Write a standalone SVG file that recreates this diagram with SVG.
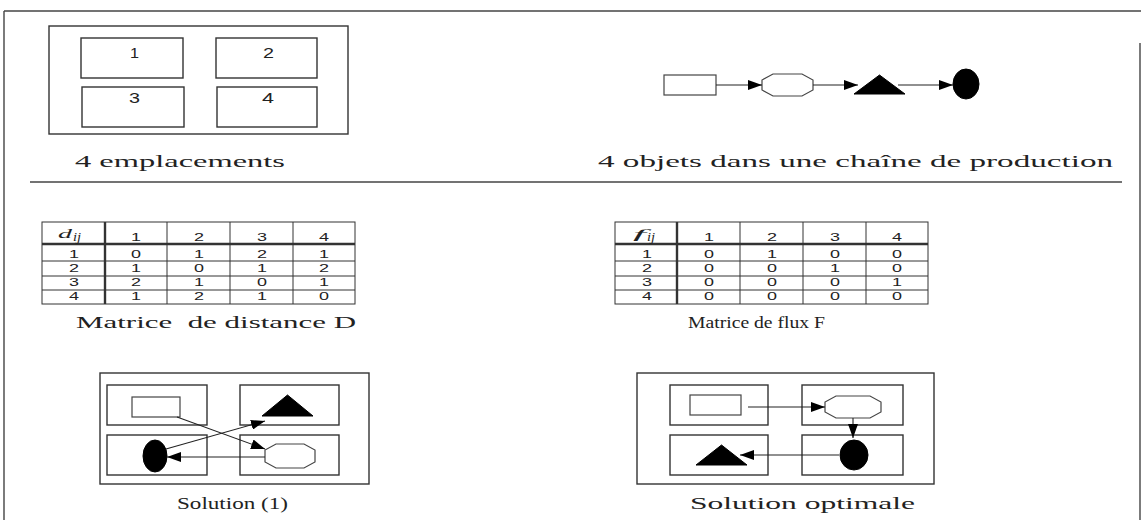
<svg xmlns="http://www.w3.org/2000/svg" width="1141" height="520" viewBox="0 0 1141 520">
  <style>
    .frame { fill: none; stroke: #444; stroke-width: 1.4; }
    .box { fill: #fff; stroke: #333; stroke-width: 1.4; }
    .obj { fill: #fff; stroke: #444; stroke-width: 1.2; }
    .solid { fill: #000; stroke: #000; stroke-width: 1; }
    .link { fill: none; stroke: #222; stroke-width: 1.1; marker-end: url(#head); }
    .grid { stroke: #333; stroke-width: 1; fill: none; }
    .thick { stroke: #333; stroke-width: 2.4; }
    .cap { font-family: "Liberation Serif", "DejaVu Serif", serif; font-size: 17px; fill: #222; white-space: pre; }
    .num { font-family: "Liberation Sans", Arial, sans-serif; font-size: 14px; fill: #222; }
    .cell { font-family: "Liberation Sans", Arial, sans-serif; font-size: 11px; fill: #222; }
    .hdr { font-family: "Liberation Serif", serif; font-style: italic; font-size: 13px; fill: #222; }
  </style>
  <defs>
    <marker id="head" markerUnits="userSpaceOnUse" markerWidth="16" markerHeight="10" refX="14" refY="5" orient="auto">
      <path d="M0,0 L14,5 L0,10 Z" fill="#000"/>
    </marker>
  </defs>

  <rect width="1141" height="520" fill="#fff"/>

  <!-- page frame and separator -->
  <g id="frame">
    <line class="frame" x1="4" y1="11" x2="1141" y2="11"/>
    <line class="frame" x1="4" y1="11" x2="4" y2="520"/>
    <line class="frame" x1="1140" y1="43" x2="1140" y2="520"/>
    <line class="frame" x1="30" y1="182" x2="1122" y2="182"/>
  </g>

  <!-- four locations -->
  <g id="locations">
    <rect class="box" x="49" y="26" width="299" height="108"/>
    <rect class="box" x="81" y="38" width="102" height="40"/>
    <rect class="box" x="216" y="38" width="101" height="40"/>
    <rect class="box" x="82" y="87" width="102" height="40"/>
    <rect class="box" x="217" y="87" width="100" height="40"/>
    <text class="num" x="130" y="58" textLength="9" lengthAdjust="spacingAndGlyphs">1</text>
    <text class="num" x="263" y="58" textLength="11" lengthAdjust="spacingAndGlyphs">2</text>
    <text class="num" x="129" y="103" textLength="11" lengthAdjust="spacingAndGlyphs">3</text>
    <text class="num" x="262" y="103" textLength="12" lengthAdjust="spacingAndGlyphs">4</text>
    <text class="cap" x="75" y="167" textLength="210" lengthAdjust="spacingAndGlyphs">4 emplacements</text>
  </g>

  <!-- production chain objects -->
  <g id="chain">
    <rect class="obj" x="664" y="75" width="52" height="20"/>
    <polygon class="obj" points="773,74 802,74 813,80 813,90 802,96 773,96 762,90 762,80"/>
    <polygon class="solid" points="854,94 879.5,75 905,94"/>
    <ellipse class="solid" cx="966" cy="84" rx="13" ry="15"/>
    <text class="cap" x="598" y="167" textLength="515" lengthAdjust="spacingAndGlyphs">4 objets dans une chaîne de production</text>
  </g>

  <!-- distance matrix D -->
  <g id="matrix-d">
    <rect class="grid" x="42" y="222" width="313" height="82"/>
    <line class="thick" x1="42" y1="244" x2="355" y2="244"/>
    <line class="grid" x1="42" y1="261" x2="355" y2="261"/>
    <line class="grid" x1="42" y1="276" x2="355" y2="276"/>
    <line class="grid" x1="42" y1="290" x2="355" y2="290"/>
    <line class="thick" x1="105" y1="222" x2="105" y2="304"/>
    <line class="grid" x1="167" y1="222" x2="167" y2="304"/>
    <line class="grid" x1="230" y1="222" x2="230" y2="304"/>
    <line class="grid" x1="293" y1="222" x2="293" y2="304"/>
    <text class="hdr" x="58" y="238" textLength="14" lengthAdjust="spacingAndGlyphs">d</text>
    <text class="hdr" x="73" y="241" font-size="8" textLength="8" lengthAdjust="spacingAndGlyphs">ij</text>
    <g class="cell">
      <text x="131" y="241" textLength="10" lengthAdjust="spacingAndGlyphs">1</text>
      <text x="194" y="241" textLength="10" lengthAdjust="spacingAndGlyphs">2</text>
      <text x="257" y="241" textLength="10" lengthAdjust="spacingAndGlyphs">3</text>
      <text x="319" y="241" textLength="10" lengthAdjust="spacingAndGlyphs">4</text>
      <text x="69" y="258" textLength="10" lengthAdjust="spacingAndGlyphs">1</text>
      <text x="131" y="258" textLength="10" lengthAdjust="spacingAndGlyphs">0</text>
      <text x="194" y="258" textLength="10" lengthAdjust="spacingAndGlyphs">1</text>
      <text x="257" y="258" textLength="10" lengthAdjust="spacingAndGlyphs">2</text>
      <text x="319" y="258" textLength="10" lengthAdjust="spacingAndGlyphs">1</text>
      <text x="69" y="272" textLength="10" lengthAdjust="spacingAndGlyphs">2</text>
      <text x="131" y="272" textLength="10" lengthAdjust="spacingAndGlyphs">1</text>
      <text x="194" y="272" textLength="10" lengthAdjust="spacingAndGlyphs">0</text>
      <text x="257" y="272" textLength="10" lengthAdjust="spacingAndGlyphs">1</text>
      <text x="319" y="272" textLength="10" lengthAdjust="spacingAndGlyphs">2</text>
      <text x="69" y="286" textLength="10" lengthAdjust="spacingAndGlyphs">3</text>
      <text x="131" y="286" textLength="10" lengthAdjust="spacingAndGlyphs">2</text>
      <text x="194" y="286" textLength="10" lengthAdjust="spacingAndGlyphs">1</text>
      <text x="257" y="286" textLength="10" lengthAdjust="spacingAndGlyphs">0</text>
      <text x="319" y="286" textLength="10" lengthAdjust="spacingAndGlyphs">1</text>
      <text x="69" y="300" textLength="10" lengthAdjust="spacingAndGlyphs">4</text>
      <text x="131" y="300" textLength="10" lengthAdjust="spacingAndGlyphs">1</text>
      <text x="194" y="300" textLength="10" lengthAdjust="spacingAndGlyphs">2</text>
      <text x="257" y="300" textLength="10" lengthAdjust="spacingAndGlyphs">1</text>
      <text x="319" y="300" textLength="10" lengthAdjust="spacingAndGlyphs">0</text>
    </g>
    <text class="cap" x="76" y="328" textLength="280" lengthAdjust="spacingAndGlyphs">Matrice  de distance D</text>
  </g>

  <!-- flow matrix F -->
  <g id="matrix-f">
    <rect class="grid" x="615" y="222" width="313" height="82"/>
    <line class="thick" x1="615" y1="244" x2="928" y2="244"/>
    <line class="grid" x1="615" y1="261" x2="928" y2="261"/>
    <line class="grid" x1="615" y1="276" x2="928" y2="276"/>
    <line class="grid" x1="615" y1="290" x2="928" y2="290"/>
    <line class="thick" x1="677" y1="222" x2="677" y2="304"/>
    <line class="grid" x1="740" y1="222" x2="740" y2="304"/>
    <line class="grid" x1="803" y1="222" x2="803" y2="304"/>
    <line class="grid" x1="866" y1="222" x2="866" y2="304"/>
    <text class="hdr" x="633" y="238" textLength="13" lengthAdjust="spacingAndGlyphs">f</text>
    <text class="hdr" x="647" y="241" font-size="8" textLength="8" lengthAdjust="spacingAndGlyphs">ij</text>
    <g class="cell">
      <text x="704" y="241" textLength="10" lengthAdjust="spacingAndGlyphs">1</text>
      <text x="767" y="241" textLength="10" lengthAdjust="spacingAndGlyphs">2</text>
      <text x="830" y="241" textLength="10" lengthAdjust="spacingAndGlyphs">3</text>
      <text x="892" y="241" textLength="10" lengthAdjust="spacingAndGlyphs">4</text>
      <text x="642" y="258" textLength="10" lengthAdjust="spacingAndGlyphs">1</text>
      <text x="704" y="258" textLength="10" lengthAdjust="spacingAndGlyphs">0</text>
      <text x="767" y="258" textLength="10" lengthAdjust="spacingAndGlyphs">1</text>
      <text x="830" y="258" textLength="10" lengthAdjust="spacingAndGlyphs">0</text>
      <text x="892" y="258" textLength="10" lengthAdjust="spacingAndGlyphs">0</text>
      <text x="642" y="272" textLength="10" lengthAdjust="spacingAndGlyphs">2</text>
      <text x="704" y="272" textLength="10" lengthAdjust="spacingAndGlyphs">0</text>
      <text x="767" y="272" textLength="10" lengthAdjust="spacingAndGlyphs">0</text>
      <text x="830" y="272" textLength="10" lengthAdjust="spacingAndGlyphs">1</text>
      <text x="892" y="272" textLength="10" lengthAdjust="spacingAndGlyphs">0</text>
      <text x="642" y="286" textLength="10" lengthAdjust="spacingAndGlyphs">3</text>
      <text x="704" y="286" textLength="10" lengthAdjust="spacingAndGlyphs">0</text>
      <text x="767" y="286" textLength="10" lengthAdjust="spacingAndGlyphs">0</text>
      <text x="830" y="286" textLength="10" lengthAdjust="spacingAndGlyphs">0</text>
      <text x="892" y="286" textLength="10" lengthAdjust="spacingAndGlyphs">1</text>
      <text x="642" y="300" textLength="10" lengthAdjust="spacingAndGlyphs">4</text>
      <text x="704" y="300" textLength="10" lengthAdjust="spacingAndGlyphs">0</text>
      <text x="767" y="300" textLength="10" lengthAdjust="spacingAndGlyphs">0</text>
      <text x="830" y="300" textLength="10" lengthAdjust="spacingAndGlyphs">0</text>
      <text x="892" y="300" textLength="10" lengthAdjust="spacingAndGlyphs">0</text>
    </g>
    <text class="cap" x="688" y="328" textLength="137" lengthAdjust="spacingAndGlyphs">Matrice de flux F</text>
  </g>

  <!-- solution (1) layout -->
  <g id="solution-1">
    <rect class="box" x="100" y="373" width="269" height="111"/>
    <rect class="box" x="107" y="385" width="100" height="40"/>
    <rect class="box" x="240" y="385" width="99" height="40"/>
    <rect class="box" x="107" y="435" width="100" height="40"/>
    <rect class="box" x="240" y="435" width="99" height="40"/>
    <rect class="obj" x="132" y="397" width="48" height="20"/>
    <polygon class="solid" points="262,416 287.5,395 313,416"/>
    <ellipse class="solid" cx="155" cy="456" rx="12" ry="16"/>
    <polygon class="obj" points="276,444 304,444 315,450 315,462 304,468 276,468 265,462 265,450"/>
    <text class="cap" x="177" y="509" textLength="111" lengthAdjust="spacingAndGlyphs">Solution (1)</text>
  </g>

  <!-- optimal layout -->
  <g id="solution-optimale">
    <rect class="box" x="637" y="373" width="297" height="111"/>
    <rect class="box" x="670" y="385" width="98" height="40"/>
    <rect class="box" x="802" y="385" width="101" height="40"/>
    <rect class="box" x="670" y="435" width="98" height="40"/>
    <rect class="box" x="802" y="435" width="101" height="40"/>
    <rect class="obj" x="690" y="395" width="51" height="20"/>
    <polygon class="obj" points="836,396 870,396 881,402 881,412 870,418 836,418 825,412 825,402"/>
    <polygon class="solid" points="696,465 721.5,445 747,465"/>
    <ellipse class="solid" cx="854" cy="455" rx="14" ry="15"/>
    <text class="cap" x="690" y="509" textLength="225" lengthAdjust="spacingAndGlyphs">Solution optimale</text>
  </g>

  <!-- flow arrows -->
  <g id="connectors">
    <line class="link" x1="716" y1="85" x2="762" y2="85"/>
    <line class="link" x1="813" y1="85" x2="858" y2="85"/>
    <line class="link" x1="898" y1="85" x2="953" y2="85"/>

    <line class="link" x1="177" y1="417" x2="265" y2="449"/>
    <line class="link" x1="166" y1="449" x2="265" y2="421"/>
    <line class="link" x1="265" y1="457" x2="167" y2="457"/>

    <line class="link" x1="748" y1="407" x2="825" y2="407"/>
    <line class="link" x1="853" y1="418" x2="853" y2="438"/>
    <line class="link" x1="839" y1="455" x2="740" y2="455"/>
  </g>
</svg>
